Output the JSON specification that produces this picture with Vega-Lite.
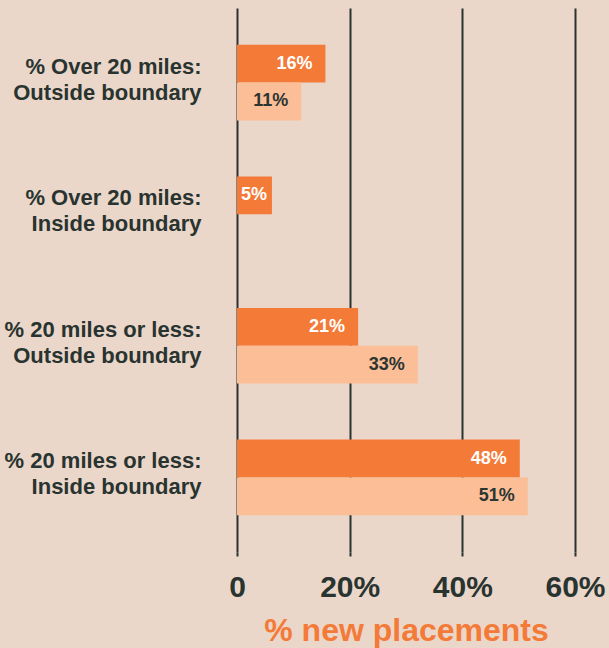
{
  "$schema": "https://vega.github.io/schema/vega-lite/v6.json",
  "width": 338,
  "height": 544,
  "autosize": {"type": "none"},
  "padding": {"left": 237, "top": 8, "right": 34, "bottom": 96},
  "background": "#EAD7CA",
  "config": {
    "view": {"stroke": null},
    "font": "Liberation Sans"
  },
  "data": {
    "values": [
      {"category": "% Over 20 miles:|Outside boundary", "series": "A", "value": 15.7, "label": "16%"},
      {"category": "% Over 20 miles:|Outside boundary", "series": "B", "value": 11.4, "label": "11%"},
      {"category": "% Over 20 miles:|Inside boundary", "series": "A", "value": 6.2, "label": "5%"},
      {"category": "% 20 miles or less:|Outside boundary", "series": "A", "value": 21.5, "label": "21%"},
      {"category": "% 20 miles or less:|Outside boundary", "series": "B", "value": 32.1, "label": "33%"},
      {"category": "% 20 miles or less:|Inside boundary", "series": "A", "value": 50.2, "label": "48%"},
      {"category": "% 20 miles or less:|Inside boundary", "series": "B", "value": 51.6, "label": "51%"}
    ]
  },
  "encoding": {
    "y": {
      "field": "category",
      "type": "nominal",
      "sort": [
        "% Over 20 miles:|Outside boundary",
        "% Over 20 miles:|Inside boundary",
        "% 20 miles or less:|Outside boundary",
        "% 20 miles or less:|Inside boundary"
      ],
      "scale": {"paddingInner": 0.426, "paddingOuter": 0.28},
      "axis": {
        "title": null,
        "domain": false,
        "ticks": false,
        "labelExpr": "split(datum.label, '|')",
        "labelFontSize": 22,
        "labelLineHeight": 26,
        "labelFontWeight": "bold",
        "labelColor": "#29332F",
        "labelPadding": 36,
        "labelOffset": -16,
        "labelLimit": 0
      }
    },
    "yOffset": {"field": "series", "type": "nominal", "sort": ["A", "B"], "scale": {"paddingInner": 0}},
    "x": {
      "field": "value",
      "type": "quantitative",
      "scale": {"domain": [0, 60], "nice": false},
      "axis": {
        "title": "% new placements",
        "titleFontSize": 32,
        "titleFontWeight": "bold",
        "titleColor": "#F47A38",
        "titlePadding": 13,
        "values": [0, 20, 40, 60],
        "labelExpr": "datum.value == 0 ? '0' : datum.value + '%'",
        "labelFontSize": 30,
        "labelFontWeight": "bold",
        "labelColor": "#29332F",
        "labelPadding": 16,
        "labelFlush": false,
        "labelOverlap": false,
        "domain": false,
        "ticks": true,
        "tickSize": 4,
        "tickWidth": 2,
        "tickColor": "#2B3330",
        "grid": true,
        "gridColor": "#2B3330",
        "gridWidth": 2,
        "gridOpacity": 1
      }
    }
  },
  "layer": [
    {
      "mark": {"type": "bar"},
      "encoding": {
        "color": {
          "field": "series",
          "type": "nominal",
          "scale": {"domain": ["A", "B"], "range": ["#F47A38", "#FBBE96"]},
          "legend": null
        }
      }
    },
    {
      "mark": {
        "type": "text",
        "align": "right",
        "baseline": "middle",
        "fontSize": 18,
        "fontWeight": "bold",
        "dx": {"expr": "datum.value < 10 ? -5 : -13"}
      },
      "encoding": {
        "text": {"field": "label"},
        "color": {
          "field": "series",
          "type": "nominal",
          "scale": {"domain": ["A", "B"], "range": ["#FFFFFF", "#2B3532"]},
          "legend": null
        }
      }
    }
  ],
  "resolve": {"scale": {"color": "independent"}}
}
